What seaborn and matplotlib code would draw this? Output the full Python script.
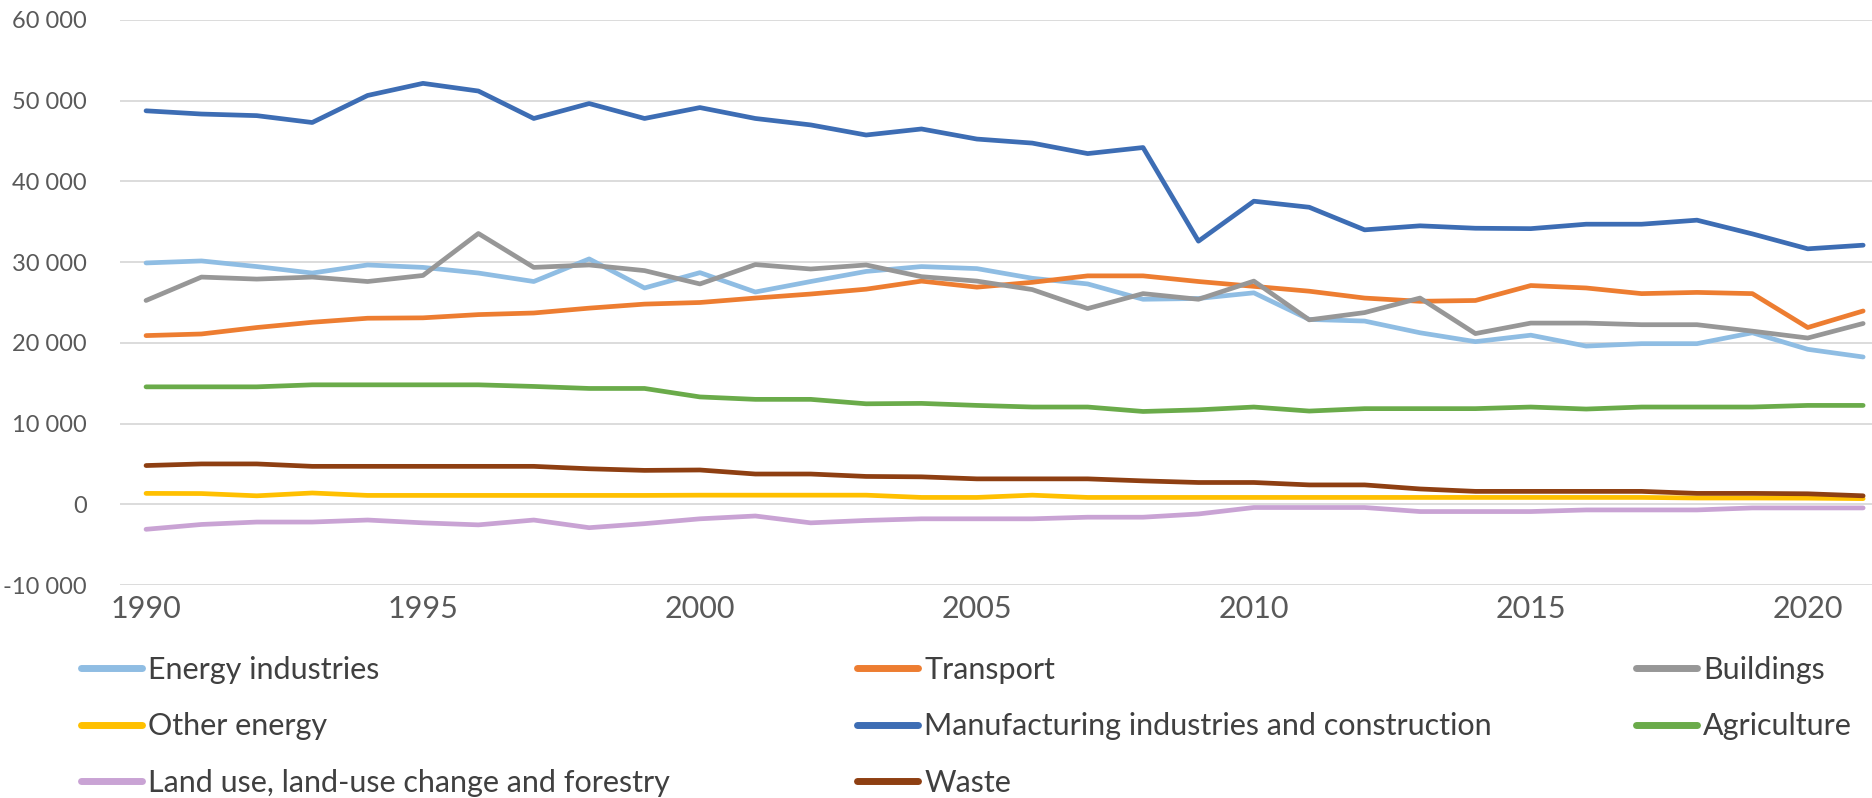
import numpy as np
import pandas as pd
import matplotlib
matplotlib.use("Agg")
import matplotlib.pyplot as plt
import seaborn as sns

years = list(range(1990, 2022))

energy_industries = [29900, 30150, 29450, 28650, 29650, 29350, 28650, 27600, 30400, 26800,
                     28700, 26300, 27600, 28850, 29450, 29200, 28000, 27300, 25400, 25500,
                     26200, 22900, 22700, 21250, 20150, 20950, 19600, 19900, 19900, 21250,
                     19200, 18250]
transport = [20900, 21100, 21900, 22550, 23050, 23100, 23500, 23700, 24300, 24800,
             25000, 25550, 26050, 26650, 27650, 26900, 27500, 28300, 28300, 27600,
             27000, 26400, 25550, 25150, 25250, 27100, 26800, 26100, 26250, 26100,
             21900, 23950]
buildings = [25250, 28150, 27900, 28150, 27600, 28350, 33550, 29350, 29650, 28950,
             27300, 29700, 29150, 29650, 28200, 27650, 26600, 24250, 26100, 25400,
             27650, 22850, 23750, 25550, 21150, 22450, 22450, 22250, 22250, 21450,
             20600, 22400]
other_energy = [1350, 1330, 1050, 1400, 1100, 1100, 1100, 1100, 1100, 1100,
                1130, 1130, 1130, 1130, 850, 850, 1130, 850, 850, 850,
                850, 850, 850, 850, 850, 850, 850, 850, 780, 780,
                760, 700]
manufacturing = [48750, 48350, 48150, 47300, 50650, 52150, 51200, 47800, 49650, 47800,
                 49150, 47800, 47000, 45750, 46500, 45250, 44750, 43450, 44200, 32600,
                 37550, 36800, 34000, 34500, 34200, 34150, 34700, 34700, 35200, 33500,
                 31650, 32100]
agriculture = [14550, 14550, 14550, 14800, 14800, 14800, 14800, 14600, 14350, 14350,
               13300, 13000, 13000, 12450, 12500, 12250, 12050, 12050, 11500, 11700,
               12050, 11550, 11850, 11850, 11850, 12050, 11800, 12050, 12050, 12050,
               12250, 12250]
land_use = [-3100, -2500, -2200, -2200, -1950, -2300, -2550, -1950, -2900, -2400,
            -1800, -1450, -2300, -2000, -1800, -1800, -1800, -1600, -1600, -1200,
            -400, -400, -400, -900, -900, -900, -700, -700, -700, -450,
            -450, -450]
waste = [4800, 5000, 5000, 4700, 4700, 4700, 4700, 4700, 4400, 4200,
         4250, 3750, 3750, 3450, 3400, 3150, 3150, 3150, 2900, 2700,
         2700, 2400, 2400, 1900, 1600, 1600, 1600, 1600, 1350, 1350,
         1300, 1050]

sectors = ["Energy industries", "Transport", "Buildings", "Other energy",
           "Manufacturing industries and construction", "Agriculture",
           "Land use, land-use change and forestry", "Waste"]
series = [energy_industries, transport, buildings, other_energy,
          manufacturing, agriculture, land_use, waste]
colors = ["#8fbde3", "#ed7d31", "#979797", "#ffc000",
          "#3d6db4", "#6aab4a", "#c9a3d4", "#8e3f12"]

y_ticks = [-10000, 0, 10000, 20000, 30000, 40000, 50000, 60000]
x_ticks = [1990, 1995, 2000, 2005, 2010, 2015, 2020]

df = pd.DataFrame({
    "year": np.tile(years, len(sectors)),
    "sector": np.repeat(sectors, len(years)),
    "value": np.concatenate([np.asarray(s, dtype=float) for s in series]),
})

sns.set_theme(style="white")
plt.rcParams["font.family"] = ["Lato", "DejaVu Sans"]

fig = plt.figure(figsize=(18.72, 7.98), dpi=100)
ax = fig.add_axes([120 / 1872, 1 - 585 / 798, 1 - 120 / 1872, (585 - 20) / 798])

palette = dict(zip(sectors, colors))
sns.lineplot(data=df, x="year", y="value", hue="sector", hue_order=sectors,
             palette=palette, linewidth=3.4, ax=ax, legend=True)

handles, labels = ax.get_legend_handles_labels()
ax.get_legend().remove()

ax.set_xlim(1989.53, 2021.16)
ax.set_ylim(-10000, 60000)
ax.set_yticks(y_ticks)
ax.set_yticklabels([f"{v:,}".replace(",", " ") for v in y_ticks])
ax.set_xticks(x_ticks)
ax.set_xticklabels([str(v) for v in x_ticks])
ax.set_xlabel("")
ax.set_ylabel("")

ax.yaxis.grid(True, color="#d9d9d9", linewidth=1.3)
ax.xaxis.grid(False)
ax.set_axisbelow(True)
for sp in ax.spines.values():
    sp.set_visible(False)
ax.tick_params(axis="y", length=0, pad=24, labelsize=17, labelcolor="#595959")
ax.tick_params(axis="x", length=0, pad=7, labelsize=22, labelcolor="#595959")

# legend laid out in three columns, filled row by row
lookup = dict(zip(labels, handles))
columns = [
    (["Energy industries", "Other energy", "Land use, land-use change and forestry"], 81),
    (["Transport", "Manufacturing industries and construction", "Waste"], 857),
    (["Buildings", "Agriculture"], 1636),
]
for names, x0 in columns:
    leg = fig.legend([lookup[n] for n in names], names,
                     loc="upper left", bbox_to_anchor=(x0 / 1872, 1 - 656 / 798),
                     frameon=False, fontsize=22, handlelength=2.0,
                     handletextpad=0.2, labelspacing=0.93, borderpad=0,
                     borderaxespad=0, labelcolor="#404040")
    for line in leg.get_lines():
        line.set_linewidth(5)

fig.savefig("out.png", dpi=100, facecolor="white")
